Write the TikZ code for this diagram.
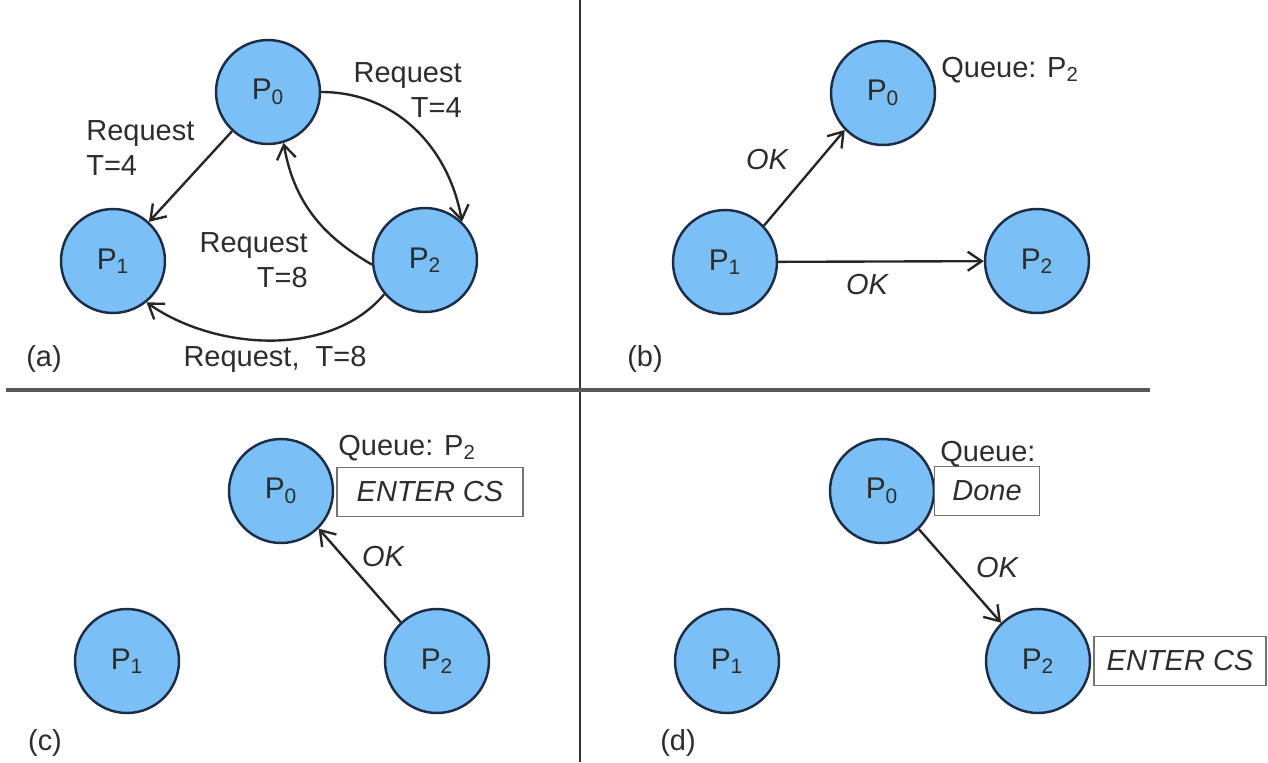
\documentclass[tikz,border=0pt]{standalone}
\usepackage{fontspec}
\setmainfont{Liberation Sans}
\usetikzlibrary{arrows.meta, positioning}

\definecolor{procblue}{RGB}{122,191,245}
\definecolor{procedge}{RGB}{28,45,70}
\definecolor{txtgray}{RGB}{45,45,45}

\begin{document}
\begin{tikzpicture}[
    x=0.02cm, y=-0.02cm,
    proc/.style={circle, draw=procedge, fill=procblue, line width=1.4pt, minimum size=2.08cm, inner sep=0pt, font=\fontsize{17}{20}\selectfont, text=txtgray},
    msg/.style={-{Straight Barb[length=2.8mm, width=3.8mm]}, line width=1.35pt, draw=black!85},
    lbl/.style={font=\fontsize{16.5}{20}\selectfont, text=txtgray, inner sep=0pt},
    oklbl/.style={font=\fontsize{16.5}{20}\selectfont\itshape, text=txtgray, inner sep=0pt},
    csbox/.style={draw=black!55, line width=0.9pt, fill=white, font=\fontsize{16.5}{20}\selectfont\itshape, text=txtgray, minimum height=0.98cm, inner sep=0pt},
    divider/.style={line width=1pt, draw=black!80}
]
\useasboundingbox (0,0) rectangle (1268,762);

% Dividers
\draw[divider] (580,0) -- (580,762);
\draw[divider, line width=1.8pt, draw=black!65] (6,390) -- (1150,390);

% (a) requests
\node[proc] (p0a) at (268,92) {P\textsubscript{0}};
\node[proc] (p1a) at (113,261) {P\textsubscript{1}};
\node[proc] (p2a) at (425,260) {P\textsubscript{2}};

\draw[msg] (p0a) -- (p1a);
\draw[msg] (p0a.east) to[out=0, in=100] (p2a.46);
\draw[msg] (p2a.185) to[out=150, in=-80] (p0a.-73);
\draw[msg] (p2a.-140) to[out=-130, in=-35, looseness=0.9] (p1a.-51);

\node[lbl, align=left, anchor=north west] (rqa1) at (86,120) {Request\\T=4};
\node[lbl, align=right, anchor=north east] (rqa2) at (462,62) {Request\\T=4};
\node[lbl, align=right, anchor=north east] (rqa3) at (308,232) {Request\\T=8};
\node[lbl, anchor=base] (rqa4) at (275,366) {Request,\ \ T=8};
\node[lbl, anchor=base] (taga) at (44,366) {(a)};

% (b) replies
\node[proc] (p0b) at (883,93) {P\textsubscript{0}};
\node[proc] (p1b) at (725,262) {P\textsubscript{1}};
\node[proc] (p2b) at (1037,261) {P\textsubscript{2}};

\draw[msg] (p1b.43) -- (p0b.224);
\draw[msg] (p1b) -- (p2b);

\node[oklbl] (okb1) at (767,160) {OK};
\node[oklbl] (okb2) at (867,285) {OK};
\node[lbl, anchor=base] (queueb) at (1010,77) {Queue: P\textsubscript{2}};
\node[lbl, anchor=base] (tagb) at (645,366) {(b)};

% (c) P0 in critical section
\node[proc] (p0c) at (281,491) {P\textsubscript{0}};
\node[proc] (p1c) at (127,661) {P\textsubscript{1}};
\node[proc] (p2c) at (437,661) {P\textsubscript{2}};

\node[csbox, minimum width=3.72cm] (csc) at (430,492) {ENTER CS};
\node[lbl, anchor=base] (queuec) at (407,455) {Queue: P\textsubscript{2}};

\draw[msg] (p2c.133) -- (p0c.-45);
\node[oklbl] (okc) at (383,557) {OK};
\node[lbl, anchor=base] (tagc) at (45,750) {(c)};

% (d) P0 done, P2 enters
\node[proc] (p0d) at (882,491) {P\textsubscript{0}};
\node[proc] (p1d) at (727,661) {P\textsubscript{1}};
\node[proc] (p2d) at (1038,661) {P\textsubscript{2}};

\node[csbox, minimum width=2.1cm] (doned) at (987,491) {Done};
\node[csbox, minimum width=3.44cm] (csd) at (1180,661) {ENTER CS};
\node[lbl, anchor=base west] (queued) at (940,461) {Queue:};

\draw[msg] (p0d.-46) -- (p2d.134);
\node[oklbl] (okd) at (997,568) {OK};
\node[lbl, anchor=base] (tagd) at (678,750) {(d)};
\end{tikzpicture}
\end{document}
